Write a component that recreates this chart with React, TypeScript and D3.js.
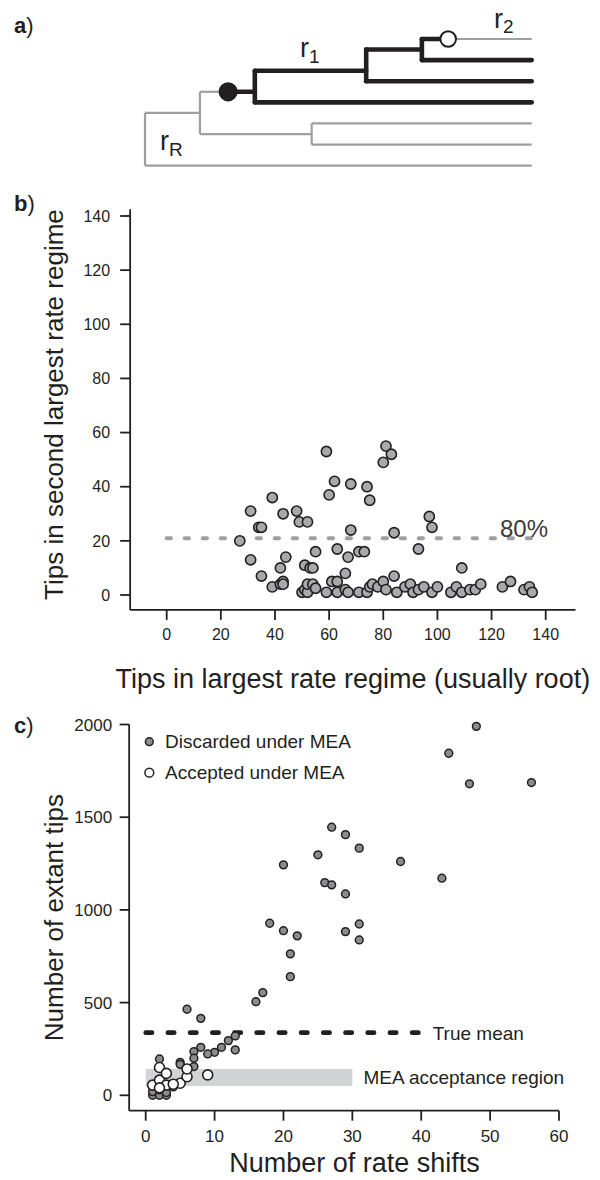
import * as d3 from "d3";

const FONT = "'Liberation Sans', Arial, Helvetica, sans-serif";
const INK = "#231f20";
const GREY_BRANCH = "#9d9fa2";

// ---- panel a: tree (time 0..100, row = tip slot 0..6)
const treeNodes = [
  { id: "root", parent: "", time: 0, row: 4.75 },
  { id: "n1", parent: "root", time: 14.2, row: 3.5 },
  { id: "n2", parent: "n1", time: 28.4, row: 2.5, shift: 21.5 },
  { id: "n3", parent: "n2", time: 57.2, row: 1.5 },
  { id: "n4", parent: "n3", time: 71.6, row: 0.5 },
  { id: "n5", parent: "n1", time: 43.1, row: 4.5 },
  { id: "t0", parent: "n4", time: 100, row: 0, shift: 78.4 },
  { id: "t1", parent: "n4", time: 100, row: 1 },
  { id: "t2", parent: "n3", time: 100, row: 2 },
  { id: "t3", parent: "n2", time: 100, row: 3 },
  { id: "t4", parent: "n5", time: 100, row: 4 },
  { id: "t5", parent: "n5", time: 100, row: 5 },
  { id: "t6", parent: "root", time: 100, row: 6 },
];
const nodeRegime: Record<string, string> = {
  root: "R", n1: "R", n2: "1", n3: "1", n4: "1", n5: "R",
  t0: "2", t1: "1", t2: "1", t3: "1", t4: "R", t5: "R", t6: "R",
};

// ---- panel b
const bX = [
  59, 81, 83, 80, 62, 68, 74, 60, 75, 39, 31, 43, 48, 49, 52, 34, 35, 97, 98, 68, 84,
  27, 63, 55, 71, 73, 93, 67, 31, 44, 42, 51, 53, 54, 109, 66, 35, 84, 39, 42, 43, 43,
  50, 51, 52, 52, 54, 55, 59, 61, 63, 63, 66, 67, 71, 74, 75, 76, 78, 80, 81, 85, 88,
  90, 91, 93, 95, 98, 100, 105, 107, 109, 112, 114, 116, 124, 127, 132, 134, 135,
];
const bY = [
  53, 55, 52, 49, 42, 41, 40, 37, 35, 36, 31, 30, 31, 27, 27, 25, 25, 29, 25, 24, 23,
  20, 17, 16, 16, 16, 17, 14, 13, 14, 10, 11, 10, 10, 10, 8, 7, 7, 3, 4, 5, 4,
  1, 2, 1, 4, 4, 2.5, 1, 5, 5, 1, 2, 1, 1, 1, 3, 4, 3, 5, 2, 1, 3,
  4, 1, 2, 3, 1, 3, 1, 3, 1, 2, 2, 4, 3, 5, 2, 3, 1,
];
const bTicks = [0, 20, 40, 60, 80, 100, 120, 140];
const bThreshold = 21;
const bThresholdEnd = 138.5;

// ---- panel c
const cDiscX = [
  48, 44, 47, 56, 27, 29, 31, 25, 20, 37, 43, 26, 27, 29, 18, 20, 22, 29, 31, 31, 21, 21,
  16, 17, 6, 8, 13, 13, 12, 11, 10, 9, 8, 7, 7, 7, 5, 5, 2, 1, 2, 3, 1, 2, 3, 4,
];
const cDiscY = [
  1990, 1845, 1680, 1687, 1446, 1406, 1333, 1297, 1243, 1261, 1171, 1147, 1135, 1086, 928,
  888, 860, 883, 924, 838, 763, 640, 505, 554, 464, 415, 320, 245, 295, 259, 232, 223, 259,
  236, 200, 155, 178, 167, 196, 0, 0, 0, 20, 30, 15, 45,
];
const cAccX = [2, 1, 2, 3, 3, 2, 5, 6, 6, 9, 4];
const cAccY = [150, 55, 82, 118, 55, 40, 65, 100, 142, 110, 60];
const cXTicks = [0, 10, 20, 30, 40, 50, 60];
const cYTicks = [0, 500, 1000, 1500, 2000];
const trueMean = 338;
const trueMeanEnd = 40.3;
const meaRegionY = [50, 142];
const meaRegionX = [0, 30];

export default function App() {
  const xT = d3.scaleLinear().domain([0, 100]).range([145, 531.7]);
  const yT = d3.scaleLinear().domain([0, 6]).range([39, 165.7]);
  const xB = d3.scaleLinear().domain([0, 140]).range([166.7, 545.7]);
  const yB = d3.scaleLinear().domain([0, 140]).range([595, 216]);
  const xC = d3.scaleLinear().domain([0, 60]).range([145.7, 559]);
  const yC = d3.scaleLinear().domain([0, 2000]).range([1095.3, 724.5]);

  const byId = new Map(treeNodes.map((n) => [n.id, n]));
  const line = d3.line();
  const segs: { d: string; reg: string }[] = [];
  treeNodes.forEach((n) => {
    if (!n.parent) return;
    const p = byId.get(n.parent)!;
    const y = yT(n.row);
    if (n.shift !== undefined) {
      segs.push({ d: line([[xT(p.time), y], [xT(n.shift), y]])!, reg: nodeRegime[p.id] });
      segs.push({ d: line([[xT(n.shift), y], [xT(n.time), y]])!, reg: nodeRegime[n.id] });
    } else {
      segs.push({ d: line([[xT(p.time), y], [xT(n.time), y]])!, reg: nodeRegime[n.id] });
    }
  });
  treeNodes.forEach((n) => {
    const kids = treeNodes.filter((k) => k.parent === n.id);
    if (!kids.length) return;
    const rows = kids.map((k) => k.row);
    segs.push({
      d: line([[xT(n.time), yT(d3.min(rows)!)], [xT(n.time), yT(d3.max(rows)!)]])!,
      reg: nodeRegime[n.id],
    });
  });
  const shifts = treeNodes.filter((n) => n.shift !== undefined);

  const bPts = bX.map((x, i) => ({ x, y: bY[i] }));
  const cDisc = cDiscX.map((x, i) => ({ x, y: cDiscY[i] }));
  const cAcc = cAccX.map((x, i) => ({ x, y: cAccY[i] }));

  const titleFont = 26;
  const xTitleFont = 27;

  return (
    <div style={{ position: "absolute", left: 0, top: 0 }}>
      <svg width={600} height={1180} style={{ display: "block", background: "#fff" }} fontFamily={FONT}>
        {/* panel labels */}
        {[["a", 33], ["b", 211], ["c", 733]].map(([l, y]) => (
          <text key={l as string} x={14} y={y as number} fontSize={22} fill={INK}>
            <tspan fontWeight="bold">{l}</tspan>)
          </text>
        ))}

        {/* ---- panel a */}
        <g>
          {segs.filter((s) => s.reg === "R" || s.reg === "2").map((s, i) => (
            <path key={"g" + i} d={s.d} stroke={GREY_BRANCH} strokeWidth={2.2} fill="none" />
          ))}
          {segs.filter((s) => s.reg === "1").map((s, i) => (
            <path key={"k" + i} d={s.d} stroke={INK} strokeWidth={4.6} strokeLinecap="round" fill="none" />
          ))}
          {shifts.map((n) => (
            <circle key={n.id} cx={xT(n.shift!)} cy={yT(n.row)} r={nodeRegime[n.id] === "1" ? 8.6 : 7.8}
              fill={nodeRegime[n.id] === "1" ? INK : "#fff"} stroke={INK} strokeWidth={2} />
          ))}
          <text x={300} y={56.7} fontSize={27} fill={INK}>r<tspan fontSize={19} dy={6}>1</tspan></text>
          <text x={494} y={27.5} fontSize={27} fill={INK}>r<tspan fontSize={19} dy={5}>2</tspan></text>
          <text x={160} y={150} fontSize={27} fill={INK}>r<tspan fontSize={19} dy={6}>R</tspan></text>
        </g>

        {/* ---- panel b */}
        <g>
          <line x1={xB(-13.5)} x2={xB(-13.5)} y1={yB(142.5)} y2={yB(-5.5)} stroke={INK} strokeWidth={1.8} />
          <line x1={xB(-13.5)} x2={xB(151)} y1={yB(-5.5)} y2={yB(-5.5)} stroke={INK} strokeWidth={1.8} />
          {bTicks.map((t) => (
            <g key={"by" + t}>
              <line x1={xB(-13.5) - 10} x2={xB(-13.5)} y1={yB(t)} y2={yB(t)} stroke={INK} strokeWidth={1.8} />
              <text x={xB(-13.5) - 20} y={yB(t)} dy="0.36em" textAnchor="end" fontSize={16} fill={INK}>{t}</text>
            </g>
          ))}
          {bTicks.map((t) => (
            <g key={"bx" + t}>
              <line x1={xB(t)} x2={xB(t)} y1={yB(-5.5)} y2={yB(-5.5) + 10} stroke={INK} strokeWidth={1.8} />
              <text x={xB(t)} y={640} textAnchor="middle" fontSize={16} fill={INK}>{t}</text>
            </g>
          ))}
          <line x1={xB(0)} x2={xB(bThresholdEnd)} y1={yB(bThreshold)} y2={yB(bThreshold)}
            stroke="#9d9fa2" strokeWidth={4} strokeDasharray="4.3 13.7" strokeLinecap="round" />
          {bPts.map((p, i) => (
            <circle key={i} cx={xB(p.x)} cy={yB(p.y)} r={5.1} fill="#a7a9ac" stroke={INK} strokeWidth={1.6} />
          ))}
          <text x={500} y={537.3} fontSize={24} fill="#3a3a3a">80%</text>
          <text transform={`translate(63,${(yB(142.5) + yB(-5.5)) / 2 - 5}) rotate(-90)`} textAnchor="middle"
            fontSize={titleFont} fill={INK}>Tips in second largest rate regime</text>
          <text x={(xB(-13.5) + xB(151)) / 2} y={688} textAnchor="middle" fontSize={xTitleFont} fill={INK}>
            Tips in largest rate regime (usually root)
          </text>
        </g>

        {/* ---- panel c */}
        <g>
          <rect x={xC(meaRegionX[0])} width={xC(meaRegionX[1]) - xC(meaRegionX[0])}
            y={yC(meaRegionY[1])} height={yC(meaRegionY[0]) - yC(meaRegionY[1])} fill="#d1d3d4" />
          <line x1={xC(-2.4)} x2={xC(-2.4)} y1={yC(2000)} y2={yC(-83)} stroke={INK} strokeWidth={1.8} />
          <line x1={xC(-2.4)} x2={xC(60)} y1={yC(-83)} y2={yC(-83)} stroke={INK} strokeWidth={1.8} />
          {cYTicks.map((t) => (
            <g key={"cy" + t}>
              <line x1={xC(-2.4) - 9.5} x2={xC(-2.4)} y1={yC(t)} y2={yC(t)} stroke={INK} strokeWidth={1.8} />
              <text x={xC(-2.4) - 17} y={yC(t)} dy="0.36em" textAnchor="end" fontSize={17} fill={INK}>{t}</text>
            </g>
          ))}
          {cXTicks.map((t) => (
            <g key={"cx" + t}>
              <line x1={xC(t)} x2={xC(t)} y1={yC(-83)} y2={yC(-83) + 10} stroke={INK} strokeWidth={1.8} />
              <text x={xC(t)} y={1142} textAnchor="middle" fontSize={17} fill={INK}>{t}</text>
            </g>
          ))}
          <line x1={xC(0)} x2={xC(trueMeanEnd)} y1={yC(trueMean)} y2={yC(trueMean)}
            stroke={INK} strokeWidth={4.7} strokeDasharray="6.3 15.9" strokeLinecap="round" />
          {cDisc.map((p, i) => (
            <circle key={"d" + i} cx={xC(p.x)} cy={yC(p.y)} r={3.9} fill="#8a8c8e" stroke={INK} strokeWidth={1.5} />
          ))}
          {cAcc.map((p, i) => (
            <circle key={"a" + i} cx={xC(p.x)} cy={yC(p.y)} r={5} fill="#fff" stroke={INK} strokeWidth={1.6} />
          ))}
          <text x={432.7} y={1039.5} fontSize={19} fill={INK}>True mean</text>
          <text x={363.5} y={1084} fontSize={19} fill={INK}>MEA acceptance region</text>
          <circle cx={149.3} cy={741.7} r={3.9} fill="#8a8c8e" stroke={INK} strokeWidth={1.5} />
          <text x={165} y={748.3} fontSize={19} fill={INK}>Discarded under MEA</text>
          <circle cx={149.3} cy={772.7} r={4.4} fill="#fff" stroke={INK} strokeWidth={1.5} />
          <text x={165} y={779.3} fontSize={19} fill={INK}>Accepted under MEA</text>
          <text transform={`translate(63,${(yC(2000) + yC(-83)) / 2}) rotate(-90)`} textAnchor="middle"
            fontSize={titleFont} fill={INK}>Number of extant tips</text>
          <text x={354.5} y={1172} textAnchor="middle" fontSize={xTitleFont} fill={INK}>
            Number of rate shifts
          </text>
        </g>
      </svg>
    </div>
  );
}
